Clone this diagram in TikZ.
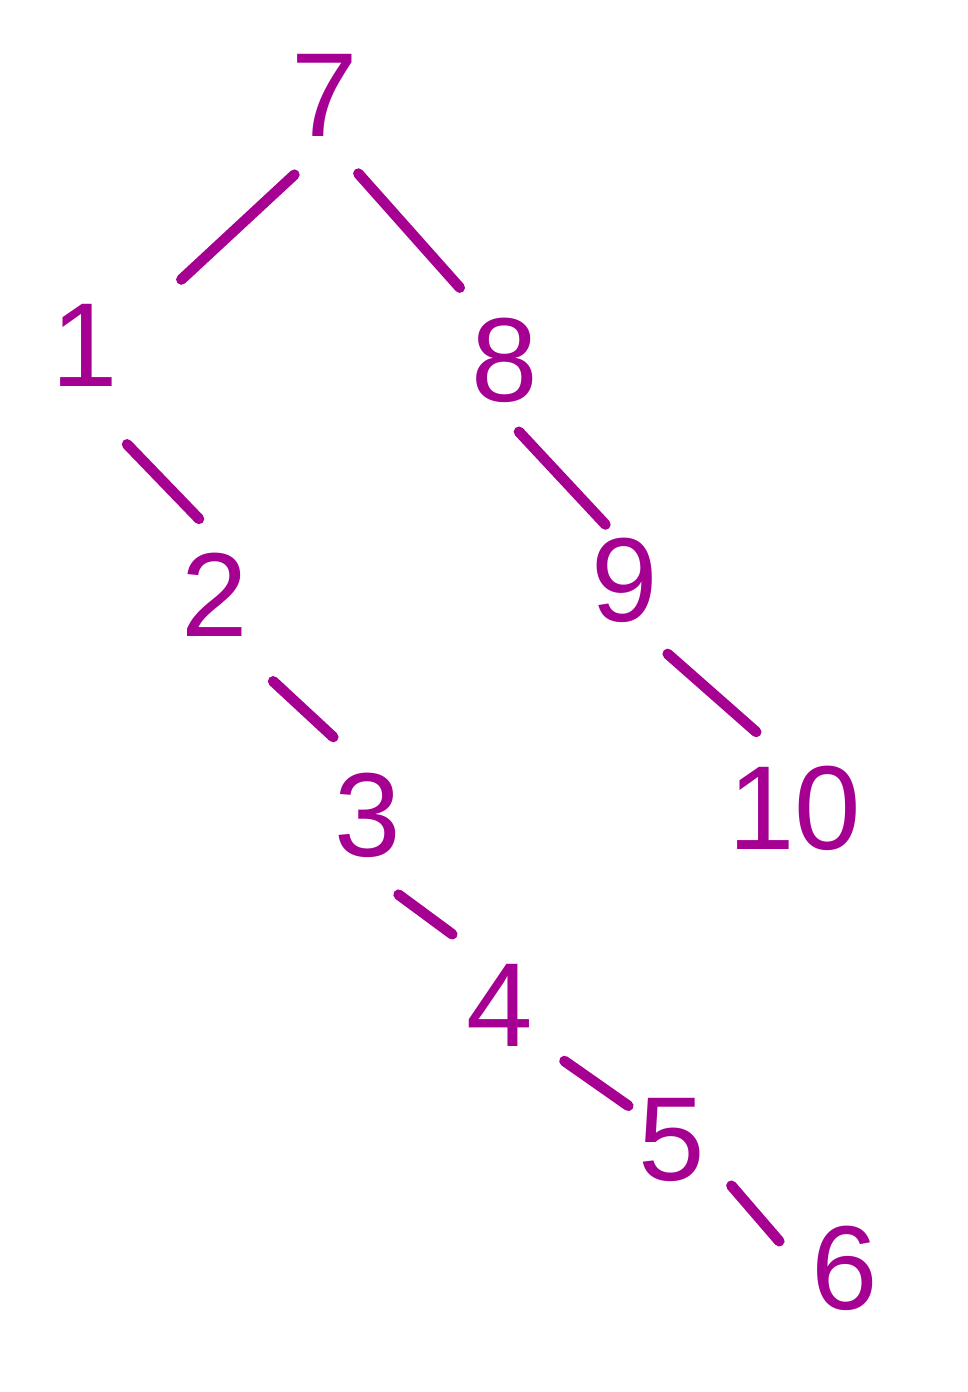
\documentclass[tikz,border=0pt]{standalone}
\usepackage{fontspec}
\setmainfont{Liberation Sans}
\usepackage{xcolor}
\definecolor{inkpurple}{RGB}{165,0,145}
\tikzset{
    num/.style={circle, minimum size=3.4cm, inner sep=0pt, text=inkpurple, font=\fontsize{68}{68}\selectfont},
    branch/.style={inkpurple, line width=6pt, line cap=round}
}
\begin{document}
\begin{tikzpicture}[x=0.02cm, y=-0.02cm]
            \useasboundingbox (0,0) rectangle (967,1392);
            \node[num] (n7) at (325,95){7};
            \node[num] (n1) at (85,345){1};
            \node[num] (n8) at (505,360){8};
            \node[num] (n2) at (215,595){2};
            \node[num] (n9) at (625,580){9};
            \node[num] (n3) at (368,815){3};
            \node[num] (n10) at (795,808){10};
            \node[num] (n4) at (500,1005){4};
            \node[num] (n5) at (672,1140){5};
            \node[num] (n6) at (845,1268){6};
            \draw[branch, shorten >=18pt] (n7.-111)--(n1.31);
            \draw[branch] (n7.-67)--(n8.122);
            \draw[branch, shorten <=14pt, shorten >=-5pt] (n1.-73)--(n2.105);
            \draw[branch, shorten <=-8pt, shorten >=-16pt] (n8.-74)--(n9.117);
            \draw[branch, shorten <=11pt] (n2.-59)--(n3.114);
            \draw[branch] (n9.-60)--(n10.117);
            \draw[branch] (n3.-69)--(n4.124);
            \draw[branch, shorten >=-17pt] (n4.-41)--(n5.143);
            \draw[branch, shorten <=-6pt, shorten >=-9pt] (n5.-39)--(n6.153);
        \end{tikzpicture}
\end{document}
